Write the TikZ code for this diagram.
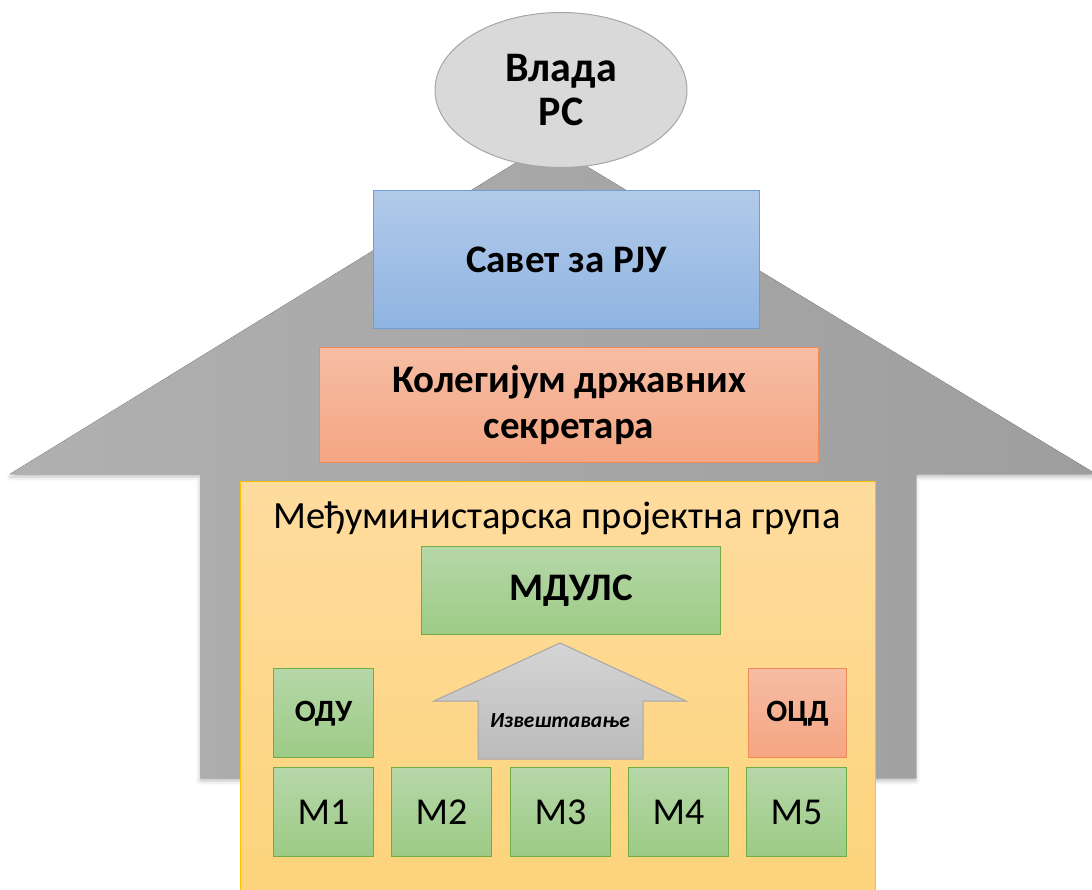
\documentclass[tikz,border=0pt]{standalone}
\usepackage{fontspec}
\setmainfont{Carlito}
\usetikzlibrary{shapes.geometric,shadows.blur}
\definecolor{grayL}{HTML}{B0B0B0}
\definecolor{grayM}{HTML}{DADADA}
\definecolor{grayR}{HTML}{9E9E9E}
\definecolor{ellF}{HTML}{D9D9D9}
\definecolor{ellD}{HTML}{A6A6A6}
\definecolor{blueT}{HTML}{B2CAE9}
\definecolor{blueB}{HTML}{8FB4E2}
\definecolor{blueD}{HTML}{6A9FDA}
\definecolor{orT}{HTML}{F6BDA4}
\definecolor{orB}{HTML}{F5A582}
\definecolor{orD}{HTML}{ED8B55}
\definecolor{yeT}{HTML}{FEDC9E}
\definecolor{yeB}{HTML}{FDD37A}
\definecolor{yeD}{HTML}{FFC000}
\definecolor{grT}{HTML}{B6D7A8}
\definecolor{grB}{HTML}{9DCB86}
\definecolor{grD}{HTML}{70AD47}
\definecolor{repT}{HTML}{D4D4D4}
\definecolor{repB}{HTML}{BCBCBC}
\tikzset{
  bluebox/.style={draw=blueD, top color=blueT, bottom color=blueB, line width=1pt, align=center, font=\bfseries\fontsize{39}{46}\selectfont},
  orbox/.style={draw=orD, top color=orT, bottom color=orB, line width=1pt, align=center, font=\bfseries\fontsize{39}{46}\selectfont},
  grbox/.style={draw=grD, top color=grT, bottom color=grB, line width=1pt, align=center},
  smallor/.style={draw=orD, top color=orT, bottom color=orB, line width=1pt, align=center},
  mbox/.style={grbox, minimum width=100pt, minimum height=89pt, inner sep=0pt, anchor=north west, text height=25pt, text depth=0pt, font=\fontsize{38}{42}\selectfont},
  tagbox/.style={minimum width=100pt, minimum height=89pt, inner sep=0pt, anchor=north west, text height=20pt, text depth=4pt, font=\bfseries\fontsize{31}{36}\selectfont},
}
\begin{document}
\begin{tikzpicture}[x=1pt,y=-1pt]
\useasboundingbox (0,0) rectangle (1092,890);
\clip (0,0) rectangle (1092,890);
% big up arrow
\fill[left color=grayL, middle color=grayM, right color=grayR,
      blur shadow={shadow xshift=0pt, shadow yshift=-3pt, shadow blur radius=4pt, shadow opacity=25}]
  (548,143) -- (1096,474) -- (916,474) -- (916,778) -- (200,778) -- (200,474) -- (10,474) -- cycle;
% ellipse
\node[ellipse, draw=ellD, fill=ellF, line width=1pt, minimum width=252pt, minimum height=155pt, align=center,
      font=\bfseries\fontsize{42}{44}\selectfont] (vlada) at (561,90) {Влада\\РС};
% council
\node[bluebox, minimum width=386pt, minimum height=138pt, inner sep=0pt, anchor=north west] (savet) at (373,190) {Савет за РЈУ};
% colleges
\node[orbox, minimum width=499pt, minimum height=115pt, inner sep=0pt, anchor=north west] (koleg) at (319,347) {Колегијум државних\\секретара};
% inter-ministerial group
\node[draw=yeD, top color=yeT, bottom color=yeB, line width=1pt, minimum width=635pt, minimum height=420pt, inner sep=0pt, anchor=north west] (group) at (240,481) {};
\node[font=\fontsize{38.5}{42}\selectfont, anchor=center] (gtitle) at (557,518) {Међуминистарска пројектна група};
% MDULS
\node[grbox, minimum width=299pt, minimum height=88pt, inner sep=0pt, anchor=north west, font=\bfseries\fontsize{39}{44}\selectfont] (mduls) at (421,546) {МДУЛС};
% reporting arrow
\coordinate (rtip) at (560,643);
\draw[draw=ellD, top color=repT, bottom color=repB, line width=1pt]
  (rtip) -- (686,701) -- (643,701) -- (643,759) -- (478,759) -- (478,701) -- (434,701) -- cycle;
\node[font=\bfseries\itshape\fontsize{21.5}{24}\selectfont] (izv) at (560,721) {Извештавање};
% ODU / OCD
\node[grbox, tagbox] (odu) at (273,668) {ОДУ};
\node[smallor, tagbox, minimum width=98pt] (ocd) at (748,668) {ОЦД};
% ministries
\node[mbox] (m1) at (273,767) {М1};
\node[mbox] (m2) at (391,767) {М2};
\node[mbox] (m3) at (510,767) {М3};
\node[mbox] (m4) at (628,767) {М4};
\node[mbox] (m5) at (746,767) {М5};
\end{tikzpicture}
\end{document}
